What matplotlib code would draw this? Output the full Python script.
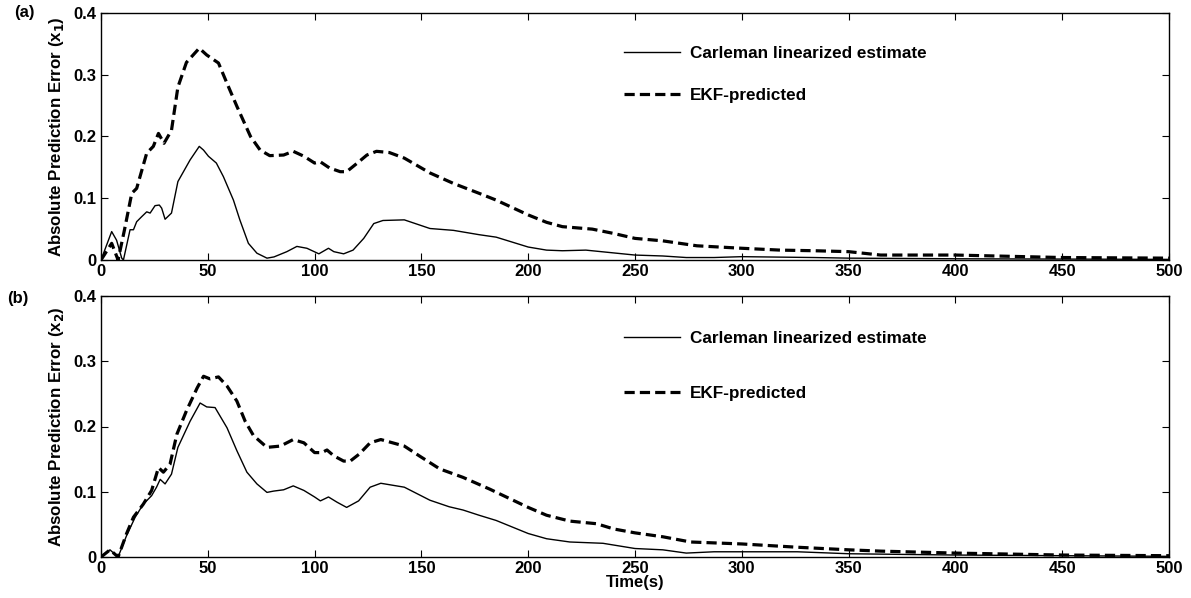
import matplotlib
matplotlib.use("Agg")
import matplotlib.pyplot as plt

plt.rcParams['font.family'] = ['Liberation Sans', 'DejaVu Sans']
plt.rcParams['font.weight'] = 'bold'
plt.rcParams['mathtext.default'] = 'bf'

# ---- panel (a): x1 ----
t_ekf1 = [0, 5, 8, 11, 14.4, 16.7, 21.4, 24.5, 26.9, 29.5, 33, 36, 40, 46, 49.5, 55, 59, 63.6, 70,
          74.5, 79, 85.5, 90, 95, 100, 102.7, 107, 112, 115, 120, 124.5, 129, 135, 142, 154, 165,
          177, 185, 200, 208.6, 216, 230, 240, 250, 263, 279, 300, 318, 334, 350, 365, 400, 450, 500]
e_ekf1 = [0, 0.027, 0.0, 0.049, 0.108, 0.116, 0.173, 0.184, 0.205, 0.189, 0.21, 0.28, 0.32, 0.343,
          0.332, 0.319, 0.286, 0.249, 0.2, 0.178, 0.169, 0.17, 0.176, 0.168, 0.157, 0.159, 0.149,
          0.143, 0.143, 0.157, 0.17, 0.176, 0.174, 0.165, 0.141, 0.124, 0.108, 0.097, 0.073, 0.061,
          0.054, 0.05, 0.043, 0.035, 0.031, 0.023, 0.019, 0.016, 0.015, 0.0135, 0.008, 0.008,
          0.004, 0.003]
t_car1 = [0, 5, 7.3, 9.7, 10.5, 13.6, 15.2, 16.7, 19, 21.4, 23, 25.3, 27.3, 28.4, 30, 33, 36, 41.7,
          46, 48, 50.3, 54, 57.3, 62, 65, 69, 73, 77.7, 81, 87, 91.7, 96.4, 102, 106.5, 109, 113.6,
          118, 123, 127.7, 132, 142, 154, 165, 177, 185, 200, 208.6, 216, 227, 250, 263, 274, 287,
          300, 334, 350, 400, 450, 500]
e_car1 = [0, 0.046, 0.032, 0.003, 0.0, 0.049, 0.049, 0.062, 0.07, 0.078, 0.076, 0.088, 0.089, 0.084,
          0.066, 0.076, 0.127, 0.162, 0.184, 0.178, 0.168, 0.157, 0.135, 0.097, 0.065, 0.027, 0.011,
          0.003, 0.005, 0.0135, 0.022, 0.019, 0.01, 0.019, 0.0135, 0.01, 0.016, 0.035, 0.059, 0.064,
          0.065, 0.051, 0.048, 0.041, 0.037, 0.021, 0.016, 0.015, 0.016, 0.008, 0.0065, 0.004,
          0.004, 0.0054, 0.004, 0.003, 0.002, 0.0015, 0.001]

# ---- panel (b): x2 ----
t_ekf2 = [0, 4.2, 8, 12, 15.2, 19.8, 23.7, 26.9, 29.2, 32.3, 35.5, 40, 45, 48, 51, 55, 59, 63.6,
          67.5, 71.4, 77.7, 84, 90, 95, 100, 103.4, 105.8, 109, 113.6, 116.7, 121, 126, 131, 142,
          149, 158.6, 169.5, 182, 200, 208.6, 219.5, 232, 240, 250, 263, 276, 300, 325.8, 350, 365,
          400, 450, 500]
e_ekf2 = [0, 0.011, 0.0, 0.036, 0.061, 0.081, 0.102, 0.137, 0.13, 0.142, 0.188, 0.224, 0.259, 0.277,
          0.273, 0.276, 0.262, 0.239, 0.208, 0.186, 0.168, 0.17, 0.18, 0.175, 0.16, 0.16, 0.164,
          0.155, 0.147, 0.147, 0.158, 0.175, 0.18, 0.17, 0.155, 0.135, 0.122, 0.104, 0.076, 0.064,
          0.055, 0.051, 0.043, 0.037, 0.031, 0.023, 0.02, 0.015, 0.011, 0.009, 0.006, 0.003, 0.002]
t_car2 = [0, 4.2, 8, 12, 16, 19.8, 23.7, 26, 27.7, 30, 33, 36, 41.7, 46.4, 49.5, 53.4, 59, 63.6,
          68.3, 73, 77.7, 80.8, 85.5, 90, 95, 100, 102.7, 106.5, 110.5, 115, 120.6, 126, 131, 142,
          154, 163, 169.5, 177, 185, 200, 208.6, 219.5, 235, 250, 263, 274, 287, 300, 326, 350,
          400, 450, 500]
e_car2 = [0, 0.011, 0.0, 0.033, 0.061, 0.081, 0.094, 0.107, 0.119, 0.112, 0.127, 0.168, 0.208, 0.236,
          0.23, 0.229, 0.198, 0.163, 0.13, 0.112, 0.099, 0.101, 0.103, 0.109, 0.102, 0.092, 0.086,
          0.092, 0.084, 0.076, 0.086, 0.107, 0.113, 0.107, 0.087, 0.077, 0.072, 0.064, 0.056, 0.036,
          0.028, 0.023, 0.021, 0.013, 0.011, 0.006, 0.008, 0.008, 0.008, 0.005, 0.003, 0.002, 0.001]

labels = ['Carleman linearized estimate', 'EKF-predicted']
xticks = [0, 50, 100, 150, 200, 250, 300, 350, 400, 450, 500]
yticks = [0, 0.1, 0.2, 0.3, 0.4]
ytick_labels = ['0', '0.1', '0.2', '0.3', '0.4']

W, H = 1191, 598
fig = plt.figure(figsize=(W / 100, H / 100), dpi=100)

ax1 = fig.add_axes([101 / W, 1 - 260 / H, 1068 / W, 247 / H])
ax2 = fig.add_axes([101 / W, 1 - 557 / H, 1068 / W, 261 / H])

panels = [
    (ax1, t_car1, e_car1, t_ekf1, e_ekf1, r'Absolute Prediction Error (x$_1$)', '(a)', -0.081, 1.0, 1.6, 0.93),
    (ax2, t_car2, e_car2, t_ekf2, e_ekf2, r'Absolute Prediction Error (x$_2$)', '(b)', -0.088, 0.99, 2.35, 0.925),
]

for ax, tc, ec, te, ee, ylab, tag, tx, ty, lsp, ly in panels:
    ax.plot(tc, ec, color='black', lw=1.0, label=labels[0])
    ax.plot(te, ee, color='black', lw=2.3, ls=(0, (3.2, 1.6)), label=labels[1])
    ax.set_xlim(0, 500)
    ax.set_ylim(0, 0.4)
    ax.set_xticks(xticks)
    ax.set_xticklabels([str(v) for v in xticks])
    ax.set_yticks(yticks)
    ax.set_yticklabels(ytick_labels)
    ax.tick_params(direction='in', top=True, right=True, length=5, width=0.8,
                   labelsize=12, pad=3)
    for lab in ax.get_xticklabels() + ax.get_yticklabels():
        lab.set_fontweight('bold')
    for s in ax.spines.values():
        s.set_linewidth(1.0)
    ax.set_ylabel(ylab, fontsize=12.2, fontweight='bold', labelpad=6)
    ax.text(tx, ty, tag, transform=ax.transAxes, fontsize=12, fontweight='bold',
            ha='left', va='center')
    ax.legend(loc='upper left', bbox_to_anchor=(0.475, ly), frameon=False,
              handlelength=3.3, labelspacing=lsp, prop={'size': 12.3, 'weight': 'bold'},
              handletextpad=0.6)

ax2.set_xlabel('Time(s)', fontsize=12, fontweight='bold', labelpad=-1)

fig.savefig('out.png', dpi=100)
